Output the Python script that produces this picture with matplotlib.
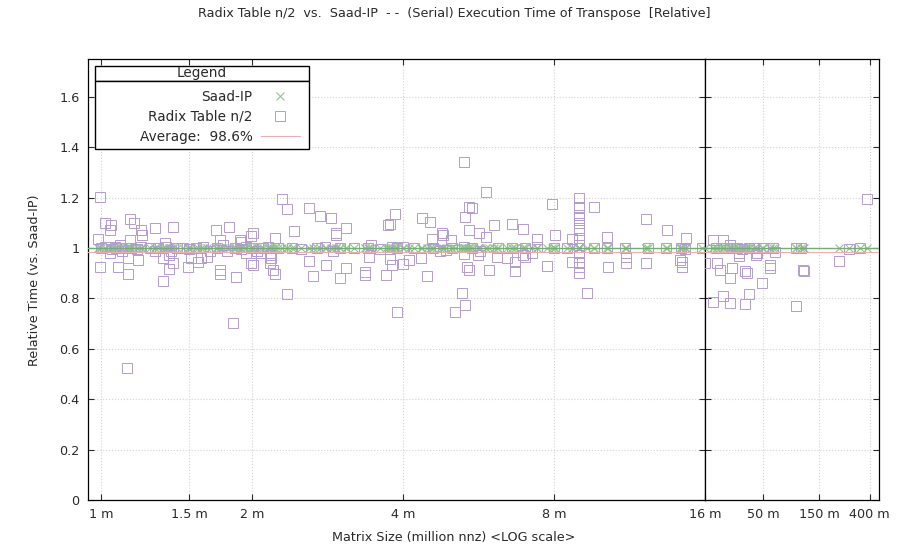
import numpy as np
import matplotlib
matplotlib.use("Agg")
import matplotlib.pyplot as plt
from matplotlib.lines import Line2D
from matplotlib.patches import Rectangle
from matplotlib.ticker import NullLocator

plt.rcParams.update({"font.family": ["DejaVu Sans"], "font.size": 9.2})

# matrix size (million nnz) and time of Radix Table n/2 relative to Saad-IP
radix_size = [
    0.995, 1.018, 1.047, 1.042, 1.143, 1.164, 1.202, 1.207, 1.281, 1.392,
    0.986, 0.995, 1.081, 1.132, 1.185, 1.329, 1.366, 1.125, 1.833, 2.294,
    2.347, 2.596, 2.731, 2.874, 3.080, 2.941, 2.425, 2.222, 1.695, 1.800,
    1.858, 1.727, 1.727, 2.347, 2.222, 2.644, 2.808, 2.997, 3.080, 3.359,
    3.697, 3.449, 3.732, 2.009, 1.990, 1.892, 1.512, 1.491, 1.583, 1.392,
    1.366, 2.009, 2.172, 2.184, 1.329, 1.132, 1.042, 1.727, 1.901, 1.066,
    1.143, 1.341, 1.627, 1.561, 2.084, 2.172, 2.202, 1.945, 1.990,
    2.940, 3.859, 3.767, 4.363, 4.522, 5.420, 5.320, 6.075, 5.420, 5.672,
    5.855, 4.794, 4.562, 4.993, 2.596, 3.359, 3.419, 3.767, 3.804, 3.992,
    4.110, 4.350, 4.465, 5.249, 5.370, 5.420, 5.937, 5.646, 5.297, 4.882,
    3.804, 6.158, 5.297, 5.855, 5.494, 7.915, 9.627, 6.602, 6.950, 8.026,
    12.21, 13.43, 14.64, 10.18, 7.383, 8.687, 4.816, 3.900, 5.085, 5.321,
    9.300, 6.695, 7.733, 10.23, 11.11, 12.21, 14.38, 14.38, 6.451, 7.014,
    11.11, 6.695, 6.950, 7.246, 8.687, 14.25,
    8.97, 8.97, 8.97, 8.97, 8.97, 8.97, 8.97, 8.97, 8.97, 8.97, 8.97, 8.97,
    1.00, 1.02, 1.05, 1.07, 1.09, 1.10, 1.12, 1.15, 1.18, 1.20, 1.25, 1.28,
    1.30, 1.35, 1.38, 1.42, 1.46, 1.50, 1.55, 1.60, 1.65, 1.70, 1.75, 1.78,
    1.85, 1.90, 1.95, 2.00, 2.05, 2.10, 2.15, 2.25, 2.40, 2.50, 2.70, 2.80,
    2.90, 3.00, 3.20, 3.40, 3.60, 3.90, 4.00, 4.20, 4.60, 4.75, 5.00, 5.30,
    5.50, 5.70, 6.20, 6.60, 7.00, 7.40, 8.00, 8.50, 8.97, 9.60, 10.2, 11.1,
    12.3, 13.4, 14.3, 14.6, 15.8,
    18.6, 22.9, 26.1, 16.1, 20.3, 21.4, 26.9, 26.1, 34.9, 36.1, 31.3, 43.3,
    56.9, 56.9, 62.7, 48.3, 38.0, 22.9, 18.6, 26.1, 34.9, 94.4, 109.0, 111.0,
    220.0, 267.0, 383.0,
    31.3, 44.0, 20.0, 24.0, 28.0, 30.0, 33.0, 38.0, 42.0, 50.0, 60.0, 95.0,
    105.0, 330.0,
]
radix_rel = [
    1.204, 1.100, 1.090, 1.070, 1.115, 1.100, 1.070, 1.050, 1.080, 1.083,
    1.035, 0.925, 0.925, 0.896, 0.952, 0.870, 0.917, 0.524, 0.704, 1.194,
    1.155, 1.158, 1.127, 1.118, 1.080, 1.060, 1.069, 1.040, 1.070, 1.083,
    0.886, 0.913, 0.897, 0.817, 0.897, 0.889, 0.932, 0.882, 0.920, 0.893,
    0.893, 1.012, 1.090, 1.060, 1.047, 1.030, 0.960, 0.926, 0.960, 0.940,
    0.972, 0.932, 0.940, 0.960, 0.960, 0.960, 0.980, 1.030, 1.025, 1.005,
    1.030, 1.020, 0.966, 0.946, 0.980, 0.972, 0.913, 0.980, 0.940,
    1.050, 1.135, 1.095, 1.120, 1.104, 1.163, 1.125, 1.091, 1.070, 1.060,
    1.043, 1.060, 1.035, 1.030, 0.950, 0.906, 0.964, 0.956, 0.932, 0.937,
    0.952, 0.960, 0.889, 0.820, 0.926, 0.913, 0.913, 0.972, 0.976, 0.992,
    1.005, 0.966, 1.340, 1.223, 1.160, 1.175, 1.164, 1.095, 1.074, 1.052,
    1.114, 1.071, 1.038, 1.042, 1.035, 1.035, 1.052, 0.745, 0.745, 0.774,
    0.820, 0.910, 0.929, 0.923, 0.939, 0.939, 0.923, 0.946, 0.959, 0.966,
    0.966, 0.946, 0.972, 0.980, 0.946, 0.952,
    1.197, 1.164, 1.131, 1.118, 1.098, 1.071, 1.038, 0.979, 0.966, 0.946, 0.926, 0.900,
    1.000, 1.005, 0.995, 1.000, 1.010, 0.990, 1.000, 1.000, 0.995, 1.005, 1.000, 0.990,
    1.000, 1.005, 0.990, 1.000, 1.000, 0.995, 1.000, 1.005, 0.990, 1.000, 1.010, 0.990,
    1.000, 0.995, 1.005, 1.000, 0.990, 1.000, 1.005, 1.000, 1.000, 0.995, 1.000, 1.005,
    0.990, 1.000, 1.000, 1.000, 0.995, 1.000, 1.005, 1.000, 1.000, 0.990, 1.000, 1.005,
    1.000, 0.990, 1.000, 1.000, 1.000, 1.005, 1.000, 1.000, 1.010, 1.000, 1.000, 1.000,
    1.000, 1.000, 1.000, 0.995, 1.000,
    1.032, 1.030, 1.012, 0.939, 0.939, 0.913, 0.919, 0.880, 0.910, 0.900, 0.968, 0.972,
    0.932, 0.919, 0.985, 0.862, 0.817, 0.811, 0.785, 0.780, 0.778, 0.770, 0.913, 0.910,
    0.950, 0.995, 1.194,
    0.980, 0.980, 1.000, 1.000, 1.000, 1.000, 0.995, 1.000, 1.000, 1.000, 1.000, 1.000,
    1.000, 1.000,
]
saad_rel = 1.0
avg_rel = 0.986

left_ticks = [1, 1.5, 2, 4, 8]
left_labels = ["1 m", "1.5 m", "2 m", "4 m", "8 m"]
right_ticks = [16, 50, 150, 400]
right_labels = ["16 m", "50 m", "150 m", "400 m"]
y_ticks = [0, 0.2, 0.4, 0.6, 0.8, 1.0, 1.2, 1.4, 1.6]
y_labels = ["0", "0.2", "0.4", "0.6", "0.8", "1", "1.2", "1.4", "1.6"]

size = np.array(radix_size)
rel = np.array(radix_rel)
split = 16.0

W, H = 908, 555
fig = plt.figure(figsize=(W / 100, H / 100), dpi=100)
x0, xm, x1 = 88 / W, 705 / W, 879 / W
y0, y1 = 1 - 500 / H, 1 - 59 / H
axl = fig.add_axes([x0, y0, xm - x0, y1 - y0])
axr = fig.add_axes([xm, y0, x1 - xm, y1 - y0], sharey=axl)

sq_col = "#b39bd1"
x_col = "#93c393"
avg_col = "#eab0b0"
txt_col = "#2a2a2a"
for ax, mask, lim in ((axl, size < split, (0.942, 16)),
                      (axr, size >= split, (16, 480))):
    ax.set_xscale("log")
    ax.set_xlim(*lim)
    ax.plot(size[mask], np.full(mask.sum(), saad_rel), "x", color=x_col,
            ms=6, mew=0.8, zorder=3)
    ax.plot(size[mask], rel[mask], "s", mfc="none", mec=sq_col, ms=7.2,
            mew=0.7, zorder=4)
    ax.axhline(saad_rel, color="#72ad72", lw=1.0, zorder=5)
    ax.axhline(avg_rel, color=avg_col, lw=0.8, zorder=5)
    ax.xaxis.set_minor_locator(NullLocator())
    ax.grid(True, color="#d2d2d2", ls=":", lw=0.8)
    ax.tick_params(direction="in", length=4.5, width=0.8, top=True, right=True,
                   pad=6, colors=txt_col, labelsize=9.2)
    for s in ax.spines.values():
        s.set_linewidth(0.9)
        s.set_color("black")

axl.set_xticks(left_ticks, left_labels)
axr.set_xticks(right_ticks, right_labels)
axl.set_ylim(0, 1.75)
axl.set_yticks(y_ticks, y_labels)
axr.tick_params(labelleft=False)

fig.text(0.5, 1 - 14 / H,
         "Radix Table n/2  vs.  Saad-IP  - -  (Serial) Execution Time of Transpose  [Relative]",
         ha="center", va="center", fontsize=9.2, color=txt_col)
fig.text(0.5, 1 - 538 / H, "Matrix Size (million nnz) <LOG scale>",
         ha="center", va="center", fontsize=9.2, color=txt_col)
fig.text(35 / W, 1 - 280 / H, "Relative Time (vs. Saad-IP)", rotation=90,
         ha="center", va="center", fontsize=9.2, color=txt_col)

# gnuplot-style legend: header box with title, body box with entries
lg_x0, lg_x1 = 95 / W, 309 / W
lg_top, lg_mid, lg_bot = 1 - 66 / H, 1 - 81 / H, 1 - 149 / H
fig.add_artist(Rectangle((lg_x0, lg_mid), lg_x1 - lg_x0, lg_top - lg_mid,
                         transform=fig.transFigure, fc="white", ec="black",
                         lw=1.0, zorder=10))
fig.add_artist(Rectangle((lg_x0, lg_bot), lg_x1 - lg_x0, lg_mid - lg_bot,
                         transform=fig.transFigure, fc="white", ec="black",
                         lw=1.0, zorder=10))
fig.text((lg_x0 + lg_x1) / 2, (lg_top + lg_mid) / 2, "Legend", ha="center",
         va="center", fontsize=9.8, color=txt_col, zorder=12)

handles = [
    Line2D([], [], ls="none", marker="x", color=x_col, ms=6, mew=0.8),
    Line2D([], [], ls="none", marker="s", mfc="none", mec=sq_col, ms=7.2, mew=0.7),
    Line2D([], [], color=avg_col, lw=0.8),
]
labels = ["Saad-IP", "Radix Table n/2", "Average:  98.6%"]
leg = fig.legend(handles, labels, loc="upper right",
                 bbox_to_anchor=(lg_x1, lg_mid), bbox_transform=fig.transFigure,
                 borderaxespad=0, markerfirst=False, frameon=False,
                 handlelength=2.9, handletextpad=0.6, borderpad=0.65,
                 labelspacing=0.45, fontsize=9.8)
leg.set_zorder(12)
for t in leg.get_texts():
    t.set_color(txt_col)

fig.savefig("out.png", dpi=100)
